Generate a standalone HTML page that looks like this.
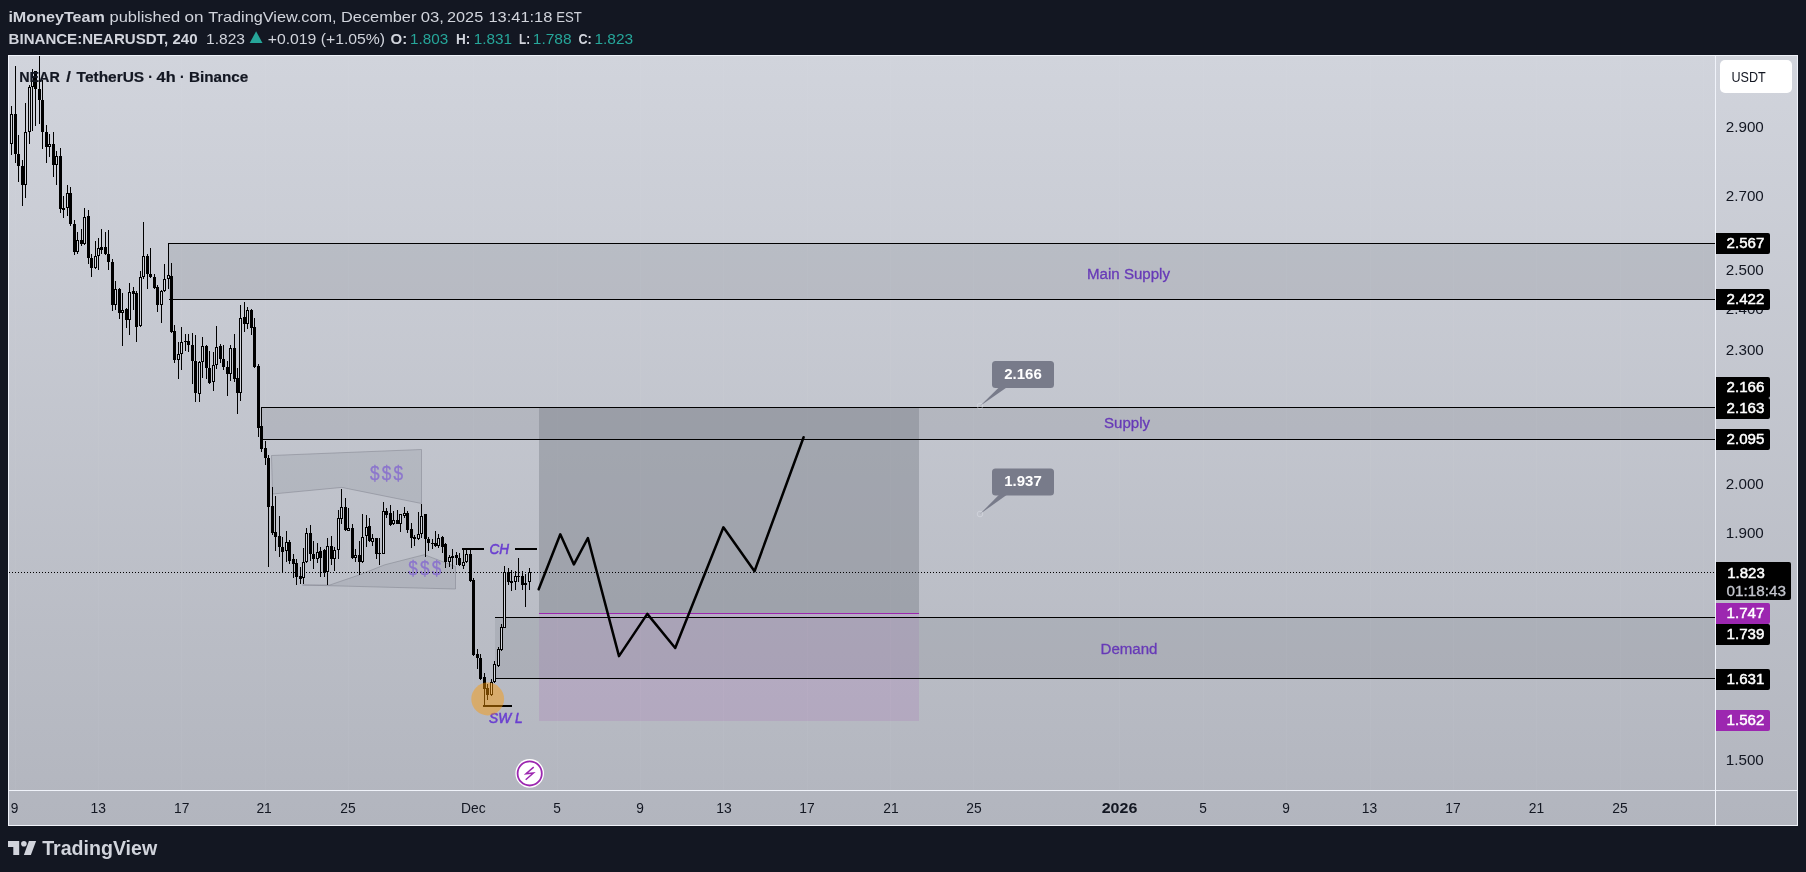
<!DOCTYPE html><html><head><meta charset="utf-8"><title>NEAR / TetherUS chart</title>
<style>html,body{margin:0;padding:0;background:#131722;}body{width:1806px;height:872px;overflow:hidden;position:relative;font-family:"Liberation Sans", Arial, sans-serif;}#chart{position:absolute;left:8px;top:55px;width:1790px;height:771px;background:linear-gradient(180deg,#d1d4dc 0%,#b2b5be 100%);}svg{position:absolute;left:0;top:0;will-change:transform;}text{font-family:"Liberation Sans", Arial, sans-serif;}</style></head><body>
<div id="chart"></div>
<svg width="1806" height="872" viewBox="0 0 1806 872">
<text x="8.4" y="22" font-size="15" fill="#d1d4dc" textLength="96.5" lengthAdjust="spacingAndGlyphs" font-weight="bold">iMoneyTeam</text>
<text y="22" font-size="15" fill="#d1d4dc"><tspan x="109.5" textLength="70.6" lengthAdjust="spacingAndGlyphs">published</tspan> <tspan x="184.6" textLength="19" lengthAdjust="spacingAndGlyphs">on</tspan> <tspan x="208.2" textLength="128.4" lengthAdjust="spacingAndGlyphs">TradingView.com,</tspan> <tspan x="341" textLength="75.4" lengthAdjust="spacingAndGlyphs">December</tspan> <tspan x="420.8" textLength="23.2" lengthAdjust="spacingAndGlyphs">03,</tspan> <tspan x="447" textLength="36.2" lengthAdjust="spacingAndGlyphs">2025</tspan> <tspan x="488.4" textLength="64" lengthAdjust="spacingAndGlyphs">13:41:18</tspan> <tspan x="556.2" textLength="25.6" lengthAdjust="spacingAndGlyphs">EST</tspan></text>
<text x="8.6" y="44" font-size="15" fill="#d1d4dc" textLength="189" lengthAdjust="spacingAndGlyphs" font-weight="bold">BINANCE:NEARUSDT, 240</text>
<text x="206" y="44" font-size="15" fill="#d1d4dc" textLength="39" lengthAdjust="spacingAndGlyphs">1.823</text>
<path d="M249.7 43 L256.1 31.3 L262.5 43 Z" fill="#26a69a"/>
<text x="267.7" y="44" font-size="15" fill="#d1d4dc" textLength="117.4" lengthAdjust="spacingAndGlyphs">+0.019 (+1.05%)</text>
<text x="390.6" y="44" font-size="15" fill="#d1d4dc" textLength="16.6" lengthAdjust="spacingAndGlyphs" font-weight="bold">O:</text>
<text x="410.1" y="44" font-size="15" fill="#26a69a" textLength="38.2" lengthAdjust="spacingAndGlyphs">1.803</text>
<text x="456" y="44" font-size="15" fill="#d1d4dc" textLength="14.3" lengthAdjust="spacingAndGlyphs" font-weight="bold">H:</text>
<text x="473.7" y="44" font-size="15" fill="#26a69a" textLength="38.3" lengthAdjust="spacingAndGlyphs">1.831</text>
<text x="519" y="44" font-size="15" fill="#d1d4dc" textLength="11.1" lengthAdjust="spacingAndGlyphs" font-weight="bold">L:</text>
<text x="532.8" y="44" font-size="15" fill="#26a69a" textLength="38.8" lengthAdjust="spacingAndGlyphs">1.788</text>
<text x="578.4" y="44" font-size="15" fill="#d1d4dc" textLength="13.3" lengthAdjust="spacingAndGlyphs" font-weight="bold">C:</text>
<text x="594.4" y="44" font-size="15" fill="#26a69a" textLength="38.7" lengthAdjust="spacingAndGlyphs">1.823</text>
<g shape-rendering="crispEdges">
<rect x="15" y="56" width="1" height="734" fill="#ffffff" opacity="0.035"/>
<rect x="98" y="56" width="1" height="734" fill="#ffffff" opacity="0.035"/>
<rect x="181" y="56" width="1" height="734" fill="#ffffff" opacity="0.035"/>
<rect x="265" y="56" width="1" height="734" fill="#ffffff" opacity="0.035"/>
<rect x="348" y="56" width="1" height="734" fill="#ffffff" opacity="0.035"/>
<rect x="473" y="56" width="1" height="734" fill="#ffffff" opacity="0.035"/>
<rect x="557" y="56" width="1" height="734" fill="#ffffff" opacity="0.035"/>
<rect x="640" y="56" width="1" height="734" fill="#ffffff" opacity="0.035"/>
<rect x="723" y="56" width="1" height="734" fill="#ffffff" opacity="0.035"/>
<rect x="807" y="56" width="1" height="734" fill="#ffffff" opacity="0.035"/>
<rect x="890" y="56" width="1" height="734" fill="#ffffff" opacity="0.035"/>
<rect x="973" y="56" width="1" height="734" fill="#ffffff" opacity="0.035"/>
<rect x="1119" y="56" width="1" height="734" fill="#ffffff" opacity="0.035"/>
<rect x="1203" y="56" width="1" height="734" fill="#ffffff" opacity="0.035"/>
<rect x="1286" y="56" width="1" height="734" fill="#ffffff" opacity="0.035"/>
<rect x="1370" y="56" width="1" height="734" fill="#ffffff" opacity="0.035"/>
<rect x="1453" y="56" width="1" height="734" fill="#ffffff" opacity="0.035"/>
<rect x="1536" y="56" width="1" height="734" fill="#ffffff" opacity="0.035"/>
<rect x="1620" y="56" width="1" height="734" fill="#ffffff" opacity="0.035"/>
<rect x="1703" y="56" width="1" height="734" fill="#ffffff" opacity="0.035"/>
</g>
<rect x="539" y="407" width="380" height="206" fill="rgba(120,123,134,0.42)"/>
<rect x="539" y="613" width="380" height="108" fill="rgba(156,39,176,0.11)"/>
<rect x="539" y="613" width="380" height="1" fill="#9c27b0" shape-rendering="crispEdges"/>
<rect x="169" y="243" width="1546" height="56" fill="rgba(120,123,134,0.2)"/>
<g shape-rendering="crispEdges"><rect x="169" y="243" width="1546" height="1" fill="#000"/><rect x="169" y="299" width="1546" height="1" fill="#000"/></g>
<rect x="261" y="407" width="1454" height="32" fill="rgba(120,123,134,0.2)"/>
<g shape-rendering="crispEdges"><rect x="261" y="407" width="1454" height="1" fill="#000"/><rect x="261" y="439" width="1454" height="1" fill="#000"/></g>
<rect x="495" y="617" width="1220" height="61" fill="rgba(120,123,134,0.2)"/>
<g shape-rendering="crispEdges"><rect x="495" y="617" width="1220" height="1" fill="#000"/><rect x="495" y="678" width="1220" height="1" fill="#000"/></g>
<polygon points="271.5,455.5 421.5,449.5 421.5,503.5 341.7,487.4 272.5,494" fill="rgba(120,123,134,0.17)" stroke="rgba(120,123,134,0.45)" stroke-width="1"/>
<polygon points="302.5,585 455.5,589 455.5,566.5 424.3,554.7 384.8,564.8 359,575 329.8,585" fill="rgba(120,123,134,0.17)" stroke="rgba(120,123,134,0.45)" stroke-width="1"/>
<text transform="translate(374.7,479.5) scale(0.82,1)" font-size="21" fill="#8c76cc" stroke="#8c76cc" stroke-width="0.35" text-anchor="middle">$</text>
<text transform="translate(386.5,479.5) scale(0.82,1)" font-size="21" fill="#8c76cc" stroke="#8c76cc" stroke-width="0.35" text-anchor="middle">$</text>
<text transform="translate(398.3,479.5) scale(0.82,1)" font-size="21" fill="#8c76cc" stroke="#8c76cc" stroke-width="0.35" text-anchor="middle">$</text>
<text transform="translate(413.0,575.3) scale(0.82,1)" font-size="21" fill="#8c76cc" stroke="#8c76cc" stroke-width="0.35" text-anchor="middle">$</text>
<text transform="translate(424.8,575.3) scale(0.82,1)" font-size="21" fill="#8c76cc" stroke="#8c76cc" stroke-width="0.35" text-anchor="middle">$</text>
<text transform="translate(436.6,575.3) scale(0.82,1)" font-size="21" fill="#8c76cc" stroke="#8c76cc" stroke-width="0.35" text-anchor="middle">$</text>
<line x1="9" y1="572.5" x2="1715" y2="572.5" stroke="#000" stroke-width="1" stroke-dasharray="1 2" shape-rendering="crispEdges"/>
<g shape-rendering="crispEdges">
<rect x="11" y="106" width="1" height="49" fill="#000"/>
<rect x="10" y="114" width="3" height="30" fill="#000"/>
<rect x="11" y="115" width="1" height="28" fill="#d1d4dc"/>
<rect x="15" y="66" width="1" height="97" fill="#000"/>
<rect x="14" y="114" width="3" height="40" fill="#000"/>
<rect x="18" y="135" width="1" height="47" fill="#000"/>
<rect x="17" y="154" width="3" height="12" fill="#000"/>
<rect x="22" y="160" width="1" height="46" fill="#000"/>
<rect x="21" y="166" width="3" height="19" fill="#000"/>
<rect x="25" y="103" width="1" height="95" fill="#000"/>
<rect x="24" y="132" width="3" height="53" fill="#000"/>
<rect x="25" y="133" width="1" height="51" fill="#d1d4dc"/>
<rect x="29" y="85" width="1" height="59" fill="#000"/>
<rect x="28" y="87" width="3" height="45" fill="#000"/>
<rect x="29" y="88" width="1" height="43" fill="#d1d4dc"/>
<rect x="32" y="69" width="1" height="62" fill="#000"/>
<rect x="31" y="77" width="3" height="10" fill="#000"/>
<rect x="32" y="78" width="1" height="8" fill="#d1d4dc"/>
<rect x="35" y="71" width="1" height="55" fill="#000"/>
<rect x="34" y="71" width="3" height="18" fill="#000"/>
<rect x="39" y="56" width="1" height="68" fill="#000"/>
<rect x="38" y="89" width="3" height="11" fill="#000"/>
<rect x="42" y="80" width="1" height="69" fill="#000"/>
<rect x="41" y="100" width="3" height="32" fill="#000"/>
<rect x="46" y="125" width="1" height="38" fill="#000"/>
<rect x="45" y="132" width="3" height="15" fill="#000"/>
<rect x="49" y="134" width="1" height="23" fill="#000"/>
<rect x="48" y="144" width="3" height="3" fill="#000"/>
<rect x="49" y="145" width="1" height="1" fill="#d1d4dc"/>
<rect x="53" y="132" width="1" height="45" fill="#000"/>
<rect x="52" y="144" width="3" height="21" fill="#000"/>
<rect x="56" y="151" width="1" height="34" fill="#000"/>
<rect x="55" y="156" width="3" height="9" fill="#000"/>
<rect x="56" y="157" width="1" height="7" fill="#d1d4dc"/>
<rect x="60" y="148" width="1" height="65" fill="#000"/>
<rect x="59" y="156" width="3" height="53" fill="#000"/>
<rect x="63" y="196" width="1" height="22" fill="#000"/>
<rect x="62" y="208" width="3" height="2" fill="#000"/>
<rect x="67" y="185" width="1" height="31" fill="#000"/>
<rect x="66" y="193" width="3" height="15" fill="#000"/>
<rect x="67" y="194" width="1" height="13" fill="#d1d4dc"/>
<rect x="70" y="187" width="1" height="39" fill="#000"/>
<rect x="69" y="193" width="3" height="31" fill="#000"/>
<rect x="74" y="220" width="1" height="35" fill="#000"/>
<rect x="73" y="224" width="3" height="28" fill="#000"/>
<rect x="77" y="232" width="1" height="22" fill="#000"/>
<rect x="76" y="240" width="3" height="12" fill="#000"/>
<rect x="77" y="241" width="1" height="10" fill="#d1d4dc"/>
<rect x="81" y="229" width="1" height="17" fill="#000"/>
<rect x="80" y="240" width="3" height="4" fill="#000"/>
<rect x="84" y="208" width="1" height="37" fill="#000"/>
<rect x="83" y="217" width="3" height="27" fill="#000"/>
<rect x="84" y="218" width="1" height="25" fill="#d1d4dc"/>
<rect x="88" y="210" width="1" height="54" fill="#000"/>
<rect x="87" y="216" width="3" height="42" fill="#000"/>
<rect x="91" y="254" width="1" height="23" fill="#000"/>
<rect x="90" y="258" width="3" height="10" fill="#000"/>
<rect x="95" y="241" width="1" height="28" fill="#000"/>
<rect x="94" y="256" width="3" height="12" fill="#000"/>
<rect x="95" y="257" width="1" height="10" fill="#d1d4dc"/>
<rect x="98" y="238" width="1" height="32" fill="#000"/>
<rect x="97" y="248" width="3" height="8" fill="#000"/>
<rect x="98" y="249" width="1" height="6" fill="#d1d4dc"/>
<rect x="101" y="229" width="1" height="25" fill="#000"/>
<rect x="100" y="247" width="3" height="3" fill="#000"/>
<rect x="105" y="232" width="1" height="23" fill="#000"/>
<rect x="104" y="247" width="3" height="7" fill="#000"/>
<rect x="108" y="230" width="1" height="40" fill="#000"/>
<rect x="107" y="254" width="3" height="8" fill="#000"/>
<rect x="112" y="259" width="1" height="52" fill="#000"/>
<rect x="111" y="262" width="3" height="43" fill="#000"/>
<rect x="115" y="281" width="1" height="29" fill="#000"/>
<rect x="114" y="289" width="3" height="16" fill="#000"/>
<rect x="115" y="290" width="1" height="14" fill="#d1d4dc"/>
<rect x="119" y="288" width="1" height="31" fill="#000"/>
<rect x="118" y="289" width="3" height="24" fill="#000"/>
<rect x="122" y="293" width="1" height="53" fill="#000"/>
<rect x="121" y="310" width="3" height="3" fill="#000"/>
<rect x="122" y="311" width="1" height="1" fill="#d1d4dc"/>
<rect x="126" y="308" width="1" height="20" fill="#000"/>
<rect x="125" y="309" width="3" height="11" fill="#000"/>
<rect x="129" y="283" width="1" height="52" fill="#000"/>
<rect x="128" y="292" width="3" height="28" fill="#000"/>
<rect x="129" y="293" width="1" height="26" fill="#d1d4dc"/>
<rect x="133" y="287" width="1" height="23" fill="#000"/>
<rect x="132" y="291" width="3" height="3" fill="#000"/>
<rect x="136" y="291" width="1" height="51" fill="#000"/>
<rect x="135" y="293" width="3" height="34" fill="#000"/>
<rect x="140" y="271" width="1" height="56" fill="#000"/>
<rect x="139" y="277" width="3" height="49" fill="#000"/>
<rect x="140" y="278" width="1" height="47" fill="#d1d4dc"/>
<rect x="143" y="222" width="1" height="57" fill="#000"/>
<rect x="142" y="256" width="3" height="21" fill="#000"/>
<rect x="143" y="257" width="1" height="19" fill="#d1d4dc"/>
<rect x="147" y="254" width="1" height="35" fill="#000"/>
<rect x="146" y="256" width="3" height="18" fill="#000"/>
<rect x="150" y="248" width="1" height="30" fill="#000"/>
<rect x="149" y="274" width="3" height="3" fill="#000"/>
<rect x="154" y="274" width="1" height="15" fill="#000"/>
<rect x="153" y="277" width="3" height="11" fill="#000"/>
<rect x="157" y="285" width="1" height="27" fill="#000"/>
<rect x="156" y="287" width="3" height="18" fill="#000"/>
<rect x="161" y="290" width="1" height="33" fill="#000"/>
<rect x="160" y="291" width="3" height="14" fill="#000"/>
<rect x="161" y="292" width="1" height="12" fill="#d1d4dc"/>
<rect x="164" y="264" width="1" height="28" fill="#000"/>
<rect x="163" y="279" width="3" height="12" fill="#000"/>
<rect x="164" y="280" width="1" height="10" fill="#d1d4dc"/>
<rect x="168" y="243" width="1" height="46" fill="#000"/>
<rect x="167" y="275" width="3" height="4" fill="#000"/>
<rect x="168" y="276" width="1" height="2" fill="#d1d4dc"/>
<rect x="171" y="263" width="1" height="70" fill="#000"/>
<rect x="170" y="276" width="3" height="56" fill="#000"/>
<rect x="174" y="325" width="1" height="38" fill="#000"/>
<rect x="173" y="331" width="3" height="29" fill="#000"/>
<rect x="178" y="342" width="1" height="37" fill="#000"/>
<rect x="177" y="354" width="3" height="6" fill="#000"/>
<rect x="178" y="355" width="1" height="4" fill="#d1d4dc"/>
<rect x="181" y="327" width="1" height="43" fill="#000"/>
<rect x="180" y="342" width="3" height="12" fill="#000"/>
<rect x="181" y="343" width="1" height="10" fill="#d1d4dc"/>
<rect x="185" y="334" width="1" height="17" fill="#000"/>
<rect x="184" y="341" width="3" height="1" fill="#000"/>
<rect x="188" y="334" width="1" height="18" fill="#000"/>
<rect x="187" y="341" width="3" height="4" fill="#000"/>
<rect x="192" y="333" width="1" height="51" fill="#000"/>
<rect x="191" y="345" width="3" height="16" fill="#000"/>
<rect x="195" y="335" width="1" height="67" fill="#000"/>
<rect x="194" y="361" width="3" height="32" fill="#000"/>
<rect x="199" y="361" width="1" height="41" fill="#000"/>
<rect x="198" y="362" width="3" height="32" fill="#000"/>
<rect x="199" y="363" width="1" height="30" fill="#d1d4dc"/>
<rect x="202" y="337" width="1" height="41" fill="#000"/>
<rect x="201" y="346" width="3" height="16" fill="#000"/>
<rect x="202" y="347" width="1" height="14" fill="#d1d4dc"/>
<rect x="206" y="345" width="1" height="34" fill="#000"/>
<rect x="205" y="346" width="3" height="22" fill="#000"/>
<rect x="209" y="351" width="1" height="33" fill="#000"/>
<rect x="208" y="368" width="3" height="15" fill="#000"/>
<rect x="213" y="352" width="1" height="39" fill="#000"/>
<rect x="212" y="365" width="3" height="17" fill="#000"/>
<rect x="213" y="366" width="1" height="15" fill="#d1d4dc"/>
<rect x="216" y="326" width="1" height="43" fill="#000"/>
<rect x="215" y="347" width="3" height="18" fill="#000"/>
<rect x="216" y="348" width="1" height="16" fill="#d1d4dc"/>
<rect x="220" y="344" width="1" height="19" fill="#000"/>
<rect x="219" y="346" width="3" height="13" fill="#000"/>
<rect x="223" y="345" width="1" height="25" fill="#000"/>
<rect x="222" y="359" width="3" height="8" fill="#000"/>
<rect x="227" y="361" width="1" height="35" fill="#000"/>
<rect x="226" y="367" width="3" height="7" fill="#000"/>
<rect x="230" y="345" width="1" height="36" fill="#000"/>
<rect x="229" y="348" width="3" height="26" fill="#000"/>
<rect x="230" y="349" width="1" height="24" fill="#d1d4dc"/>
<rect x="234" y="334" width="1" height="48" fill="#000"/>
<rect x="233" y="348" width="3" height="31" fill="#000"/>
<rect x="237" y="368" width="1" height="46" fill="#000"/>
<rect x="236" y="378" width="3" height="15" fill="#000"/>
<rect x="240" y="305" width="1" height="96" fill="#000"/>
<rect x="239" y="318" width="3" height="75" fill="#000"/>
<rect x="240" y="319" width="1" height="73" fill="#d1d4dc"/>
<rect x="244" y="302" width="1" height="30" fill="#000"/>
<rect x="243" y="317" width="3" height="7" fill="#000"/>
<rect x="247" y="307" width="1" height="22" fill="#000"/>
<rect x="246" y="310" width="3" height="14" fill="#000"/>
<rect x="247" y="311" width="1" height="12" fill="#d1d4dc"/>
<rect x="251" y="309" width="1" height="26" fill="#000"/>
<rect x="250" y="310" width="3" height="18" fill="#000"/>
<rect x="254" y="318" width="1" height="50" fill="#000"/>
<rect x="253" y="327" width="3" height="40" fill="#000"/>
<rect x="258" y="364" width="1" height="73" fill="#000"/>
<rect x="257" y="366" width="3" height="62" fill="#000"/>
<rect x="261" y="407" width="1" height="45" fill="#000"/>
<rect x="260" y="426" width="3" height="23" fill="#000"/>
<rect x="265" y="441" width="1" height="24" fill="#000"/>
<rect x="264" y="448" width="3" height="10" fill="#000"/>
<rect x="268" y="455" width="1" height="112" fill="#000"/>
<rect x="267" y="458" width="3" height="49" fill="#000"/>
<rect x="272" y="487" width="1" height="48" fill="#000"/>
<rect x="271" y="506" width="3" height="27" fill="#000"/>
<rect x="275" y="496" width="1" height="55" fill="#000"/>
<rect x="274" y="532" width="3" height="5" fill="#000"/>
<rect x="279" y="516" width="1" height="41" fill="#000"/>
<rect x="278" y="536" width="3" height="11" fill="#000"/>
<rect x="282" y="537" width="1" height="35" fill="#000"/>
<rect x="281" y="547" width="3" height="5" fill="#000"/>
<rect x="286" y="531" width="1" height="31" fill="#000"/>
<rect x="285" y="542" width="3" height="9" fill="#000"/>
<rect x="286" y="543" width="1" height="7" fill="#d1d4dc"/>
<rect x="289" y="540" width="1" height="24" fill="#000"/>
<rect x="288" y="542" width="3" height="19" fill="#000"/>
<rect x="293" y="554" width="1" height="24" fill="#000"/>
<rect x="292" y="559" width="3" height="5" fill="#000"/>
<rect x="296" y="559" width="1" height="26" fill="#000"/>
<rect x="295" y="563" width="3" height="14" fill="#000"/>
<rect x="300" y="567" width="1" height="17" fill="#000"/>
<rect x="299" y="576" width="3" height="3" fill="#000"/>
<rect x="303" y="548" width="1" height="36" fill="#000"/>
<rect x="302" y="562" width="3" height="16" fill="#000"/>
<rect x="303" y="563" width="1" height="14" fill="#d1d4dc"/>
<rect x="306" y="528" width="1" height="35" fill="#000"/>
<rect x="305" y="533" width="3" height="29" fill="#000"/>
<rect x="306" y="534" width="1" height="27" fill="#d1d4dc"/>
<rect x="310" y="525" width="1" height="36" fill="#000"/>
<rect x="309" y="533" width="3" height="21" fill="#000"/>
<rect x="313" y="541" width="1" height="28" fill="#000"/>
<rect x="312" y="554" width="3" height="5" fill="#000"/>
<rect x="317" y="543" width="1" height="20" fill="#000"/>
<rect x="316" y="552" width="3" height="7" fill="#000"/>
<rect x="317" y="553" width="1" height="5" fill="#d1d4dc"/>
<rect x="320" y="547" width="1" height="30" fill="#000"/>
<rect x="319" y="551" width="3" height="7" fill="#000"/>
<rect x="324" y="549" width="1" height="28" fill="#000"/>
<rect x="323" y="550" width="3" height="23" fill="#000"/>
<rect x="327" y="538" width="1" height="47" fill="#000"/>
<rect x="326" y="546" width="3" height="26" fill="#000"/>
<rect x="327" y="547" width="1" height="24" fill="#d1d4dc"/>
<rect x="331" y="536" width="1" height="29" fill="#000"/>
<rect x="330" y="546" width="3" height="13" fill="#000"/>
<rect x="334" y="547" width="1" height="24" fill="#000"/>
<rect x="333" y="550" width="3" height="9" fill="#000"/>
<rect x="334" y="551" width="1" height="7" fill="#d1d4dc"/>
<rect x="338" y="510" width="1" height="49" fill="#000"/>
<rect x="337" y="518" width="3" height="32" fill="#000"/>
<rect x="338" y="519" width="1" height="30" fill="#d1d4dc"/>
<rect x="341" y="489" width="1" height="35" fill="#000"/>
<rect x="340" y="507" width="3" height="12" fill="#000"/>
<rect x="341" y="508" width="1" height="10" fill="#d1d4dc"/>
<rect x="345" y="498" width="1" height="33" fill="#000"/>
<rect x="344" y="507" width="3" height="23" fill="#000"/>
<rect x="348" y="508" width="1" height="23" fill="#000"/>
<rect x="347" y="528" width="3" height="3" fill="#000"/>
<rect x="348" y="529" width="1" height="1" fill="#d1d4dc"/>
<rect x="352" y="524" width="1" height="35" fill="#000"/>
<rect x="351" y="528" width="3" height="30" fill="#000"/>
<rect x="355" y="549" width="1" height="13" fill="#000"/>
<rect x="354" y="555" width="3" height="3" fill="#000"/>
<rect x="355" y="556" width="1" height="1" fill="#d1d4dc"/>
<rect x="359" y="541" width="1" height="34" fill="#000"/>
<rect x="358" y="555" width="3" height="7" fill="#000"/>
<rect x="362" y="514" width="1" height="49" fill="#000"/>
<rect x="361" y="537" width="3" height="25" fill="#000"/>
<rect x="362" y="538" width="1" height="23" fill="#d1d4dc"/>
<rect x="366" y="515" width="1" height="32" fill="#000"/>
<rect x="365" y="527" width="3" height="9" fill="#000"/>
<rect x="366" y="528" width="1" height="7" fill="#d1d4dc"/>
<rect x="369" y="518" width="1" height="24" fill="#000"/>
<rect x="368" y="526" width="3" height="15" fill="#000"/>
<rect x="372" y="534" width="1" height="12" fill="#000"/>
<rect x="371" y="538" width="3" height="4" fill="#000"/>
<rect x="372" y="539" width="1" height="2" fill="#d1d4dc"/>
<rect x="376" y="538" width="1" height="21" fill="#000"/>
<rect x="375" y="538" width="3" height="16" fill="#000"/>
<rect x="379" y="538" width="1" height="27" fill="#000"/>
<rect x="378" y="553" width="3" height="1" fill="#000"/>
<rect x="383" y="502" width="1" height="52" fill="#000"/>
<rect x="382" y="511" width="3" height="43" fill="#000"/>
<rect x="383" y="512" width="1" height="41" fill="#d1d4dc"/>
<rect x="386" y="508" width="1" height="10" fill="#000"/>
<rect x="385" y="511" width="3" height="4" fill="#000"/>
<rect x="390" y="505" width="1" height="21" fill="#000"/>
<rect x="389" y="513" width="3" height="12" fill="#000"/>
<rect x="393" y="511" width="1" height="14" fill="#000"/>
<rect x="392" y="520" width="3" height="4" fill="#000"/>
<rect x="393" y="521" width="1" height="2" fill="#d1d4dc"/>
<rect x="397" y="510" width="1" height="14" fill="#000"/>
<rect x="396" y="520" width="3" height="4" fill="#000"/>
<rect x="400" y="514" width="1" height="18" fill="#000"/>
<rect x="399" y="514" width="3" height="10" fill="#000"/>
<rect x="400" y="515" width="1" height="8" fill="#d1d4dc"/>
<rect x="404" y="507" width="1" height="11" fill="#000"/>
<rect x="403" y="513" width="3" height="3" fill="#000"/>
<rect x="404" y="514" width="1" height="1" fill="#d1d4dc"/>
<rect x="407" y="511" width="1" height="22" fill="#000"/>
<rect x="406" y="513" width="3" height="17" fill="#000"/>
<rect x="411" y="523" width="1" height="25" fill="#000"/>
<rect x="410" y="529" width="3" height="9" fill="#000"/>
<rect x="414" y="535" width="1" height="11" fill="#000"/>
<rect x="413" y="537" width="3" height="2" fill="#000"/>
<rect x="418" y="512" width="1" height="28" fill="#000"/>
<rect x="417" y="534" width="3" height="5" fill="#000"/>
<rect x="418" y="535" width="1" height="3" fill="#d1d4dc"/>
<rect x="421" y="504" width="1" height="34" fill="#000"/>
<rect x="420" y="516" width="3" height="18" fill="#000"/>
<rect x="421" y="517" width="1" height="16" fill="#d1d4dc"/>
<rect x="425" y="514" width="1" height="43" fill="#000"/>
<rect x="424" y="514" width="3" height="25" fill="#000"/>
<rect x="428" y="537" width="1" height="14" fill="#000"/>
<rect x="427" y="539" width="3" height="4" fill="#000"/>
<rect x="432" y="539" width="1" height="10" fill="#000"/>
<rect x="431" y="543" width="3" height="1" fill="#000"/>
<rect x="435" y="531" width="1" height="16" fill="#000"/>
<rect x="434" y="543" width="3" height="3" fill="#000"/>
<rect x="438" y="534" width="1" height="14" fill="#000"/>
<rect x="437" y="538" width="3" height="8" fill="#000"/>
<rect x="438" y="539" width="1" height="6" fill="#d1d4dc"/>
<rect x="442" y="536" width="1" height="17" fill="#000"/>
<rect x="441" y="537" width="3" height="10" fill="#000"/>
<rect x="445" y="543" width="1" height="25" fill="#000"/>
<rect x="444" y="544" width="3" height="18" fill="#000"/>
<rect x="449" y="555" width="1" height="12" fill="#000"/>
<rect x="448" y="557" width="3" height="5" fill="#000"/>
<rect x="449" y="558" width="1" height="3" fill="#d1d4dc"/>
<rect x="452" y="549" width="1" height="20" fill="#000"/>
<rect x="451" y="556" width="3" height="2" fill="#000"/>
<rect x="456" y="552" width="1" height="13" fill="#000"/>
<rect x="455" y="555" width="3" height="3" fill="#000"/>
<rect x="459" y="553" width="1" height="13" fill="#000"/>
<rect x="458" y="558" width="3" height="7" fill="#000"/>
<rect x="463" y="550" width="1" height="19" fill="#000"/>
<rect x="462" y="562" width="3" height="4" fill="#000"/>
<rect x="463" y="563" width="1" height="2" fill="#d1d4dc"/>
<rect x="466" y="550" width="1" height="13" fill="#000"/>
<rect x="465" y="554" width="3" height="8" fill="#000"/>
<rect x="466" y="555" width="1" height="6" fill="#d1d4dc"/>
<rect x="470" y="550" width="1" height="32" fill="#000"/>
<rect x="469" y="554" width="3" height="27" fill="#000"/>
<rect x="473" y="578" width="1" height="78" fill="#000"/>
<rect x="472" y="580" width="3" height="75" fill="#000"/>
<rect x="477" y="649" width="1" height="20" fill="#000"/>
<rect x="476" y="654" width="3" height="4" fill="#000"/>
<rect x="480" y="654" width="1" height="26" fill="#000"/>
<rect x="479" y="658" width="3" height="21" fill="#000"/>
<rect x="484" y="673" width="1" height="33" fill="#000"/>
<rect x="483" y="677" width="3" height="12" fill="#000"/>
<rect x="487" y="684" width="1" height="16" fill="#000"/>
<rect x="486" y="688" width="3" height="7" fill="#000"/>
<rect x="491" y="679" width="1" height="17" fill="#000"/>
<rect x="490" y="682" width="3" height="13" fill="#000"/>
<rect x="491" y="683" width="1" height="11" fill="#d1d4dc"/>
<rect x="494" y="661" width="1" height="22" fill="#000"/>
<rect x="493" y="664" width="3" height="18" fill="#000"/>
<rect x="494" y="665" width="1" height="16" fill="#d1d4dc"/>
<rect x="498" y="647" width="1" height="20" fill="#000"/>
<rect x="497" y="649" width="3" height="17" fill="#000"/>
<rect x="498" y="650" width="1" height="15" fill="#d1d4dc"/>
<rect x="501" y="624" width="1" height="27" fill="#000"/>
<rect x="500" y="627" width="3" height="23" fill="#000"/>
<rect x="501" y="628" width="1" height="21" fill="#d1d4dc"/>
<rect x="504" y="566" width="1" height="62" fill="#000"/>
<rect x="503" y="572" width="3" height="56" fill="#000"/>
<rect x="504" y="573" width="1" height="54" fill="#d1d4dc"/>
<rect x="508" y="568" width="1" height="17" fill="#000"/>
<rect x="507" y="572" width="3" height="10" fill="#000"/>
<rect x="511" y="570" width="1" height="21" fill="#000"/>
<rect x="510" y="581" width="3" height="2" fill="#000"/>
<rect x="515" y="571" width="1" height="19" fill="#000"/>
<rect x="514" y="576" width="3" height="6" fill="#000"/>
<rect x="515" y="577" width="1" height="4" fill="#d1d4dc"/>
<rect x="518" y="558" width="1" height="24" fill="#000"/>
<rect x="517" y="576" width="3" height="1" fill="#000"/>
<rect x="522" y="571" width="1" height="19" fill="#000"/>
<rect x="521" y="576" width="3" height="9" fill="#000"/>
<rect x="525" y="574" width="1" height="33" fill="#000"/>
<rect x="524" y="583" width="3" height="2" fill="#000"/>
<rect x="529" y="568" width="1" height="22" fill="#000"/>
<rect x="528" y="572" width="3" height="10" fill="#000"/>
<rect x="529" y="573" width="1" height="8" fill="#d1d4dc"/>
</g>
<g shape-rendering="crispEdges"><rect x="462" y="548" width="22" height="2" fill="#000"/><rect x="515" y="548" width="22" height="2" fill="#000"/><rect x="483" y="705" width="29" height="2" fill="#000"/></g>
<text x="489.5" y="553.5" font-size="14.5" fill="#6a3fd0" textLength="19.5" lengthAdjust="spacingAndGlyphs" font-style="italic" stroke="#6a3fd0" stroke-width="0.55">CH</text>
<text x="489" y="723" font-size="14.5" fill="#6a3fd0" textLength="33.5" lengthAdjust="spacingAndGlyphs" font-style="italic" stroke="#6a3fd0" stroke-width="0.55">SW L</text>
<circle cx="487.7" cy="699" r="16.4" fill="rgba(255,152,0,0.45)"/>
<polyline points="538.7,589.3 560.3,534.3 573.9,564.4 587.9,538 619,656.1 647.3,613.9 675.2,648 723.4,527.3 754.5,571.2 803.6,437.2" fill="none" stroke="#000" stroke-width="2.5" stroke-linejoin="round" stroke-linecap="round"/>
<text x="1128.5" y="279" font-size="14" fill="#673ab7" textLength="83" lengthAdjust="spacingAndGlyphs" text-anchor="middle" stroke="#673ab7" stroke-width="0.3">Main Supply</text>
<text x="1127" y="428" font-size="14" fill="#673ab7" textLength="46" lengthAdjust="spacingAndGlyphs" text-anchor="middle" stroke="#673ab7" stroke-width="0.3">Supply</text>
<text x="1129" y="654" font-size="14" fill="#673ab7" textLength="57" lengthAdjust="spacingAndGlyphs" text-anchor="middle" stroke="#673ab7" stroke-width="0.3">Demand</text>
<path d="M980 406 L998.8 387.5 L1006.6 387.5 Z" fill="#787b8a"/>
<circle cx="980" cy="406" r="2.8" fill="none" stroke="#e4e6ec" stroke-width="0.8" opacity="0.55"/>
<rect x="992" y="361" width="62" height="27" rx="3.5" fill="#787b8a"/>
<text x="1023" y="378.6" font-size="14.8" fill="#fff" textLength="37.5" lengthAdjust="spacingAndGlyphs" text-anchor="middle" font-weight="bold">2.166</text>
<path d="M980 514 L998.8 495.0 L1006.6 495.0 Z" fill="#787b8a"/>
<circle cx="980" cy="514" r="2.8" fill="none" stroke="#e4e6ec" stroke-width="0.8" opacity="0.55"/>
<rect x="992" y="468.5" width="62" height="27" rx="3.5" fill="#787b8a"/>
<text x="1023" y="486.1" font-size="14.8" fill="#fff" textLength="37.5" lengthAdjust="spacingAndGlyphs" text-anchor="middle" font-weight="bold">1.937</text>
<circle cx="529.7" cy="773.4" r="14.3" fill="#fff"/>
<circle cx="529.7" cy="773.4" r="12.1" fill="none" stroke="#9c27b0" stroke-width="1.8"/>
<polyline transform="translate(529.7,773.4)" points="4.0,-6.3 -3.7,0.35 3.7,-0.35 -4.0,6.3" fill="none" stroke="#9c27b0" stroke-width="1.5" stroke-miterlimit="6" stroke-linejoin="miter"/>
<g shape-rendering="crispEdges">
<rect x="1715" y="56" width="1" height="770" fill="#f0f3fa"/>
<rect x="9" y="790" width="1788" height="1" fill="#f0f3fa"/>
<rect x="8" y="55" width="1790" height="1" fill="#f0f3fa"/><rect x="8" y="825" width="1790" height="1" fill="#f0f3fa"/><rect x="8" y="55" width="1" height="771" fill="#f0f3fa"/><rect x="1797" y="55" width="1" height="771" fill="#f0f3fa"/>
</g>
<text x="1725.8" y="132" font-size="15.5" fill="#131722" textLength="38" lengthAdjust="spacingAndGlyphs">2.900</text>
<text x="1725.8" y="201" font-size="15.5" fill="#131722" textLength="38" lengthAdjust="spacingAndGlyphs">2.700</text>
<text x="1725.8" y="275" font-size="15.5" fill="#131722" textLength="38" lengthAdjust="spacingAndGlyphs">2.500</text>
<text x="1725.8" y="314" font-size="15.5" fill="#131722" textLength="38" lengthAdjust="spacingAndGlyphs">2.400</text>
<text x="1725.8" y="355" font-size="15.5" fill="#131722" textLength="38" lengthAdjust="spacingAndGlyphs">2.300</text>
<text x="1725.8" y="489" font-size="15.5" fill="#131722" textLength="38" lengthAdjust="spacingAndGlyphs">2.000</text>
<text x="1725.8" y="538" font-size="15.5" fill="#131722" textLength="38" lengthAdjust="spacingAndGlyphs">1.900</text>
<text x="1725.8" y="765" font-size="15.5" fill="#131722" textLength="38" lengthAdjust="spacingAndGlyphs">1.500</text>
<path d="M1716 233 H1768 Q1770 233 1770 235 V252 Q1770 254 1768 254 H1716 Z" fill="#000"/>
<text x="1726.6" y="248.1" font-size="14.2" fill="#fff" textLength="37.8" lengthAdjust="spacingAndGlyphs" stroke="#fff" stroke-width="0.45">2.567</text>
<path d="M1716 289 H1768 Q1770 289 1770 291 V308 Q1770 310 1768 310 H1716 Z" fill="#000"/>
<text x="1726.6" y="304.1" font-size="14.2" fill="#fff" textLength="37.8" lengthAdjust="spacingAndGlyphs" stroke="#fff" stroke-width="0.45">2.422</text>
<path d="M1716 377 H1768 Q1770 377 1770 379 V396 Q1770 398 1768 398 H1716 Z" fill="#000"/>
<text x="1726.6" y="392.1" font-size="14.2" fill="#fff" textLength="37.8" lengthAdjust="spacingAndGlyphs" stroke="#fff" stroke-width="0.45">2.166</text>
<path d="M1716 398 H1768 Q1770 398 1770 400 V417 Q1770 419 1768 419 H1716 Z" fill="#000"/>
<text x="1726.6" y="413.1" font-size="14.2" fill="#fff" textLength="37.8" lengthAdjust="spacingAndGlyphs" stroke="#fff" stroke-width="0.45">2.163</text>
<path d="M1716 429 H1768 Q1770 429 1770 431 V448 Q1770 450 1768 450 H1716 Z" fill="#000"/>
<text x="1726.6" y="444.1" font-size="14.2" fill="#fff" textLength="37.8" lengthAdjust="spacingAndGlyphs" stroke="#fff" stroke-width="0.45">2.095</text>
<path d="M1716 603 H1768 Q1770 603 1770 605 V622 Q1770 624 1768 624 H1716 Z" fill="#9c27b0"/>
<text x="1726.6" y="618.1" font-size="14.2" fill="#fff" textLength="37.8" lengthAdjust="spacingAndGlyphs" stroke="#fff" stroke-width="0.45">1.747</text>
<path d="M1716 624 H1768 Q1770 624 1770 626 V643 Q1770 645 1768 645 H1716 Z" fill="#000"/>
<text x="1726.6" y="639.1" font-size="14.2" fill="#fff" textLength="37.8" lengthAdjust="spacingAndGlyphs" stroke="#fff" stroke-width="0.45">1.739</text>
<path d="M1716 669 H1768 Q1770 669 1770 671 V688 Q1770 690 1768 690 H1716 Z" fill="#000"/>
<text x="1726.6" y="684.1" font-size="14.2" fill="#fff" textLength="37.8" lengthAdjust="spacingAndGlyphs" stroke="#fff" stroke-width="0.45">1.631</text>
<path d="M1716 710 H1768 Q1770 710 1770 712 V729 Q1770 731 1768 731 H1716 Z" fill="#9c27b0"/>
<text x="1726.6" y="725.1" font-size="14.2" fill="#fff" textLength="37.8" lengthAdjust="spacingAndGlyphs" stroke="#fff" stroke-width="0.45">1.562</text>
<path d="M1716 562 H1789 Q1791 562 1791 564 V598 Q1791 600 1789 600 H1716 Z" fill="#000"/>
<text x="1727.2" y="577.9" font-size="14.2" fill="#fff" textLength="37.6" lengthAdjust="spacingAndGlyphs" stroke="#fff" stroke-width="0.45">1.823</text>
<text x="1726.6" y="595.8" font-size="14.2" fill="#c4c6ce" textLength="59.4" lengthAdjust="spacingAndGlyphs" stroke="#c4c6ce" stroke-width="0.3">01:18:43</text>
<rect x="1720" y="60" width="72" height="33" rx="5" fill="#fff"/>
<text x="1731.5" y="81.7" font-size="14" fill="#131722" textLength="34.3" lengthAdjust="spacingAndGlyphs">USDT</text>
<text x="14.5" y="812.7" font-size="15.2" fill="#131722" textLength="7.6" lengthAdjust="spacingAndGlyphs" text-anchor="middle">9</text>
<text x="98.2" y="812.7" font-size="15.2" fill="#131722" textLength="15.4" lengthAdjust="spacingAndGlyphs" text-anchor="middle">13</text>
<text x="181.7" y="812.7" font-size="15.2" fill="#131722" textLength="15.4" lengthAdjust="spacingAndGlyphs" text-anchor="middle">17</text>
<text x="264.1" y="812.7" font-size="15.2" fill="#131722" textLength="15.4" lengthAdjust="spacingAndGlyphs" text-anchor="middle">21</text>
<text x="348" y="812.7" font-size="15.2" fill="#131722" textLength="15.4" lengthAdjust="spacingAndGlyphs" text-anchor="middle">25</text>
<text x="473.4" y="812.7" font-size="15.2" fill="#131722" textLength="24.6" lengthAdjust="spacingAndGlyphs" text-anchor="middle">Dec</text>
<text x="557" y="812.7" font-size="15.2" fill="#131722" textLength="7.6" lengthAdjust="spacingAndGlyphs" text-anchor="middle">5</text>
<text x="640" y="812.7" font-size="15.2" fill="#131722" textLength="7.6" lengthAdjust="spacingAndGlyphs" text-anchor="middle">9</text>
<text x="724" y="812.7" font-size="15.2" fill="#131722" textLength="15.4" lengthAdjust="spacingAndGlyphs" text-anchor="middle">13</text>
<text x="807" y="812.7" font-size="15.2" fill="#131722" textLength="15.4" lengthAdjust="spacingAndGlyphs" text-anchor="middle">17</text>
<text x="891" y="812.7" font-size="15.2" fill="#131722" textLength="15.4" lengthAdjust="spacingAndGlyphs" text-anchor="middle">21</text>
<text x="974" y="812.7" font-size="15.2" fill="#131722" textLength="15.4" lengthAdjust="spacingAndGlyphs" text-anchor="middle">25</text>
<text x="1119.5" y="812.7" font-size="15.2" fill="#131722" textLength="35.6" lengthAdjust="spacingAndGlyphs" text-anchor="middle" font-weight="bold">2026</text>
<text x="1203" y="812.7" font-size="15.2" fill="#131722" textLength="7.6" lengthAdjust="spacingAndGlyphs" text-anchor="middle">5</text>
<text x="1286" y="812.7" font-size="15.2" fill="#131722" textLength="7.6" lengthAdjust="spacingAndGlyphs" text-anchor="middle">9</text>
<text x="1369.5" y="812.7" font-size="15.2" fill="#131722" textLength="15.4" lengthAdjust="spacingAndGlyphs" text-anchor="middle">13</text>
<text x="1453" y="812.7" font-size="15.2" fill="#131722" textLength="15.4" lengthAdjust="spacingAndGlyphs" text-anchor="middle">17</text>
<text x="1536.5" y="812.7" font-size="15.2" fill="#131722" textLength="15.4" lengthAdjust="spacingAndGlyphs" text-anchor="middle">21</text>
<text x="1620" y="812.7" font-size="15.2" fill="#131722" textLength="15.4" lengthAdjust="spacingAndGlyphs" text-anchor="middle">25</text>
<text y="82" font-size="14" font-weight="bold" fill="#131722" stroke="#131722" stroke-width="0.2"><tspan x="19.2" textLength="40.6" lengthAdjust="spacingAndGlyphs">NEAR</tspan> <tspan x="66.2" textLength="4.6" lengthAdjust="spacingAndGlyphs">/</tspan> <tspan x="76.6" textLength="67.6" lengthAdjust="spacingAndGlyphs">TetherUS</tspan> <tspan x="148.2" textLength="4.6" lengthAdjust="spacingAndGlyphs">·</tspan> <tspan x="156.6" textLength="19" lengthAdjust="spacingAndGlyphs">4h</tspan> <tspan x="180.1" textLength="4.6" lengthAdjust="spacingAndGlyphs">·</tspan> <tspan x="189" textLength="59.2" lengthAdjust="spacingAndGlyphs">Binance</tspan></text>
<path d="M8 841 H19.2 V855.1 H13.3 V847 H8 Z" fill="#d1d4dc"/>
<circle cx="23.9" cy="843.7" r="2.8" fill="#d1d4dc"/>
<path d="M28.9 841 H36.1 L30.9 855.1 H23.9 Z" fill="#d1d4dc"/>
<text x="42.2" y="855.1" font-size="19.3" fill="#d1d4dc" textLength="115" lengthAdjust="spacingAndGlyphs" font-weight="bold">TradingView</text>
</svg></body></html>
